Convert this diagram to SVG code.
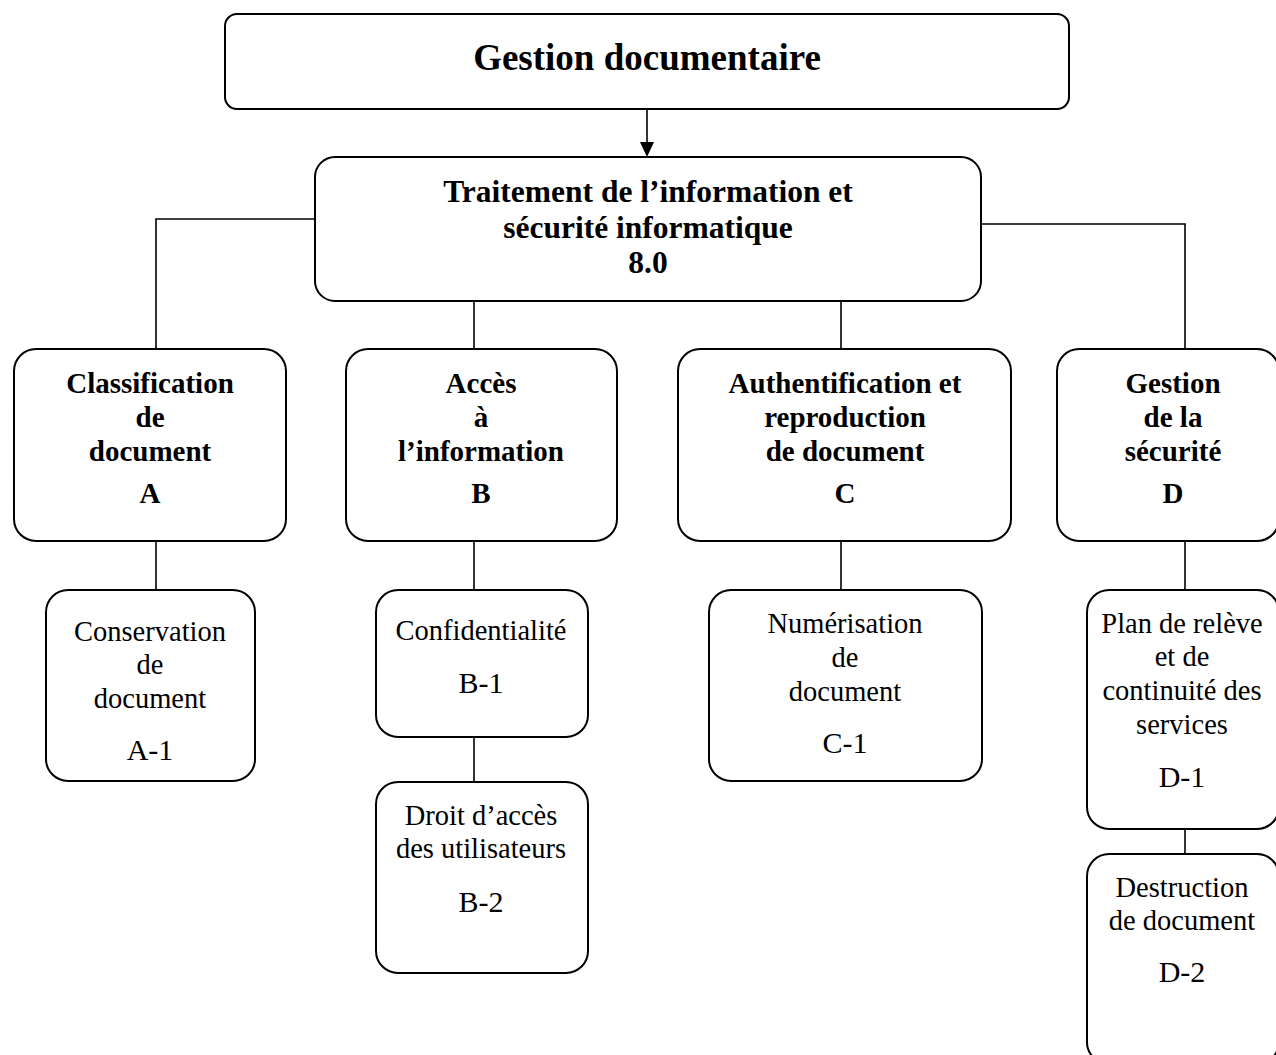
<svg xmlns="http://www.w3.org/2000/svg" width="1276" height="1055" viewBox="0 0 1276 1055">
<defs>
<rect id="dummy" width="0" height="0"/>
</defs>
<rect width="1276" height="1055" fill="#fff"/>
<g id="connectors" stroke="#000" stroke-width="1.6" fill="none">
<line x1="647" y1="110" x2="647" y2="142"/>
<path d="M640,142 L654,142 L647,157 Z" fill="#000" stroke="none"/>
<polyline points="315,219 156,219 156,349"/>
<polyline points="981,224 1185,224 1185,349"/>
<line x1="474" y1="301" x2="474" y2="349"/>
<line x1="841" y1="301" x2="841" y2="349"/>
<line x1="156" y1="541" x2="156" y2="590"/>
<line x1="474" y1="541" x2="474" y2="590"/>
<line x1="841" y1="541" x2="841" y2="590"/>
<line x1="1185" y1="541" x2="1185" y2="590"/>
<line x1="474" y1="737" x2="474" y2="782"/>
<line x1="1185" y1="829" x2="1185" y2="854"/>
</g>
<g font-family="Liberation Serif" text-anchor="middle" fill="#000">
<g id="root">
<rect x="225" y="14" width="844" height="95" rx="12" fill="#fff" stroke="#000" stroke-width="2"/>
<text x="647" y="70" font-weight="bold" font-size="37">Gestion documentaire</text>
</g>
<g id="n80" font-weight="bold" font-size="31.5">
<rect x="315" y="157" width="666" height="144" rx="20" fill="#fff" stroke="#000" stroke-width="2"/>
<text x="648" y="202">Traitement de l’information et</text>
<text x="648" y="238">sécurité informatique</text>
<text x="648" y="273">8.0</text>
</g>
<g id="nA" font-weight="bold" font-size="29">
<rect x="14" y="349" width="272" height="192" rx="22" fill="#fff" stroke="#000" stroke-width="2"/>
<text x="150" y="393">Classification</text>
<text x="150" y="427">de</text>
<text x="150" y="461">document</text>
<text x="150" y="503">A</text>
</g>
<g id="nB" font-weight="bold" font-size="29">
<rect x="346" y="349" width="271" height="192" rx="22" fill="#fff" stroke="#000" stroke-width="2"/>
<text x="481" y="393">Accès</text>
<text x="481" y="427">à</text>
<text x="481" y="461">l’information</text>
<text x="481" y="503">B</text>
</g>
<g id="nC" font-weight="bold" font-size="29">
<rect x="678" y="349" width="333" height="192" rx="22" fill="#fff" stroke="#000" stroke-width="2"/>
<text x="845" y="393">Authentification et</text>
<text x="845" y="427">reproduction</text>
<text x="845" y="461">de document</text>
<text x="845" y="503">C</text>
</g>
<g id="nD" font-weight="bold" font-size="29">
<rect x="1057" y="349" width="222" height="192" rx="22" fill="#fff" stroke="#000" stroke-width="2"/>
<text x="1173" y="393">Gestion</text>
<text x="1173" y="427">de la</text>
<text x="1173" y="461">sécurité</text>
<text x="1173" y="503">D</text>
</g>
<g id="nA1" font-size="28.5">
<rect x="46" y="590" width="209" height="191" rx="22" fill="#fff" stroke="#000" stroke-width="2"/>
<text x="150" y="641">Conservation</text>
<text x="150" y="674">de</text>
<text x="150" y="708">document</text>
<text x="150" y="760" font-size="30">A-1</text>
</g>
<g id="nB1" font-size="28.5">
<rect x="376" y="590" width="212" height="147" rx="22" fill="#fff" stroke="#000" stroke-width="2"/>
<text x="481" y="640">Confidentialité</text>
<text x="481" y="693" font-size="30">B-1</text>
</g>
<g id="nB2" font-size="28.5">
<rect x="376" y="782" width="212" height="191" rx="22" fill="#fff" stroke="#000" stroke-width="2"/>
<text x="481" y="825">Droit d’accès</text>
<text x="481" y="858">des utilisateurs</text>
<text x="481" y="912" font-size="30">B-2</text>
</g>
<g id="nC1" font-size="28.5">
<rect x="709" y="590" width="273" height="191" rx="22" fill="#fff" stroke="#000" stroke-width="2"/>
<text x="845" y="633">Numérisation</text>
<text x="845" y="667">de</text>
<text x="845" y="701">document</text>
<text x="845" y="753" font-size="30">C-1</text>
</g>
<g id="nD1" font-size="28.5">
<rect x="1087" y="590" width="192" height="239" rx="22" fill="#fff" stroke="#000" stroke-width="2"/>
<text x="1182" y="633">Plan de relève</text>
<text x="1182" y="666">et de</text>
<text x="1182" y="700">continuité des</text>
<text x="1182" y="734">services</text>
<text x="1182" y="787" font-size="30">D-1</text>
</g>
<g id="nD2" font-size="28.5">
<rect x="1087" y="854" width="192" height="210" rx="22" fill="#fff" stroke="#000" stroke-width="2"/>
<text x="1182" y="897">Destruction</text>
<text x="1182" y="930">de document</text>
<text x="1182" y="982" font-size="30">D-2</text>
</g>
</g>
</svg>
